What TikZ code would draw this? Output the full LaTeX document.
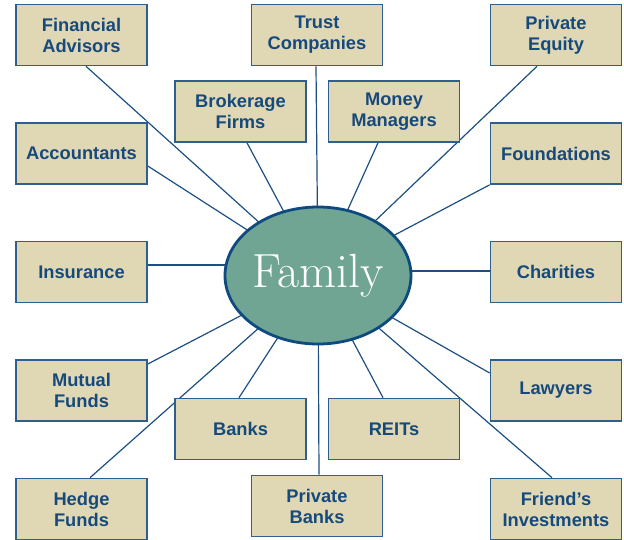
\documentclass[tikz,border=0pt]{standalone}
\usepackage{fontspec}
\newfontfamily\labelfont{Liberation Sans}
\usetikzlibrary{shapes.geometric,backgrounds}

\definecolor{boxfill}{HTML}{E0D8B4}
\definecolor{boxline}{HTML}{2E5F8F}
\definecolor{boxtext}{HTML}{174A7C}
\definecolor{linkcol}{HTML}{1D4F82}
\definecolor{famfill}{HTML}{6FA592}
\definecolor{famline}{HTML}{0E4A80}

\tikzset{
  party/.style={draw=boxline, line width=1.6pt, fill=boxfill,
    minimum width=131pt, minimum height=61pt, inner sep=0pt,
    align=center, text=boxtext,
    font=\labelfont\bfseries\fontsize{18.3}{21}\selectfont},
  hub/.style={ellipse, draw=famline, line width=2.8pt, fill=famfill,
    minimum width=184pt, minimum height=137pt, inner sep=0pt,
    text=white, font=\fontsize{48}{52}\selectfont},
  link/.style={draw=linkcol, line width=1.2pt}
}

\begin{document}
\begin{tikzpicture}[x=1pt,y=-1pt]
\useasboundingbox (0,0) rectangle (624,539);

% centre
\node[hub] (fam) at (318,275.5) {Family};

% surrounding parties
\node[party] (fa) at (81.5,35)    {Financial\\Advisors};
\node[party] (tc) at (317,35)     {Trust\\Companies};
\node[party] (pe) at (556,35)     {Private\\Equity};
\node[party] (bf) at (240.5,111.5) {Brokerage\\Firms};
\node[party] (mm) at (394,111.5)  {Money\\Managers};
\node[party] (ac) at (81.5,153.5) {Accountants};
\node[party] (fo) at (556,153.5)  {Foundations};
\node[party] (in) at (81.5,272)   {Insurance};
\node[party] (ch) at (556,272)    {Charities};
\node[party] (mf) at (81.5,390.5) {Mutual\\Funds};
\node[party] (la) at (556,390.5)  {Lawyers};
\node[party] (ba) at (240.5,429)  {Banks};
\node[party] (re) at (394,429)    {REITs};
\node[party] (hf) at (81.5,509)   {Hedge\\Funds};
\node[party] (pb) at (317,506)    {Private\\Banks};
\node[party] (fi) at (556,509)    {Friend’s\\Investments};

% spokes, drawn behind the boxes and the hub
\begin{pgfonlayer}{background}
  \draw[link] ([xshift=4.5pt]fa.south)  -- (fam.center);
  \draw[link] ([xshift=-1pt]tc.south)   -- (fam.center);
  \draw[link] ([xshift=-19pt]pe.south)  -- (fam.center);
  \draw[link] ([xshift=6.5pt]bf.south)  -- (fam.center);
  \draw[link] ([xshift=-16pt]mm.south)  -- (fam.center);
  \draw[link] ([yshift=-12.5pt]ac.east) -- (fam.center);
  \draw[link] (fo.south west)           -- (fam.center);
  \draw[link] ([yshift=7pt]in.east)     -- ([yshift=7pt]in.east -| fam.center);
  \draw[link] ([yshift=1pt]ch.west)     -- ([yshift=1pt]ch.west -| fam.center);
  \draw[link] ([yshift=26.5pt]mf.east)  -- (fam.center);
  \draw[link] ([yshift=17.5pt]la.west)  -- (fam.center);
  \draw[link] ([xshift=-1.5pt]ba.north) -- (fam.center);
  \draw[link] ([xshift=-11pt]re.north)  -- (fam.center);
  \draw[link] ([xshift=8.5pt]hf.north)  -- (fam.center);
  \draw[link] ([xshift=2pt]pb.north)    -- (fam.center);
  \draw[link] ([xshift=-4pt]fi.north)   -- (fam.center);
\end{pgfonlayer}
\end{tikzpicture}
\end{document}
